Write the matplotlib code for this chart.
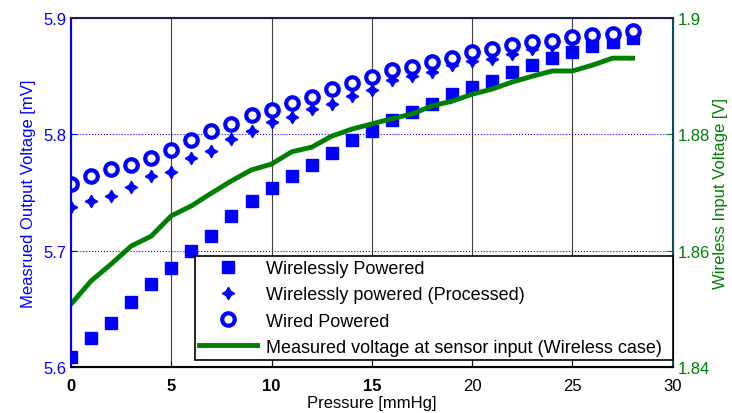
import matplotlib
matplotlib.use("Agg")
import matplotlib.pyplot as plt
import numpy as np

plt.rcParams['font.family'] = ['Liberation Sans', 'DejaVu Sans']

pressure = list(range(29))

# measured output voltage [mV]
wireless = [5.609, 5.625, 5.638, 5.656, 5.671, 5.685, 5.700, 5.713, 5.730, 5.743,
            5.754, 5.764, 5.774, 5.784, 5.795, 5.803, 5.812, 5.819, 5.826, 5.835,
            5.841, 5.846, 5.854, 5.860, 5.866, 5.871, 5.876, 5.879, 5.883]
processed = [5.738, 5.743, 5.747, 5.755, 5.764, 5.768, 5.780, 5.786, 5.796, 5.803,
             5.811, 5.815, 5.822, 5.826, 5.833, 5.838, 5.847, 5.850, 5.854, 5.860,
             5.863, 5.865, 5.869, 5.873, 5.876, 5.879, 5.883, 5.884, 5.885]
wired = [5.757, 5.764, 5.770, 5.774, 5.780, 5.787, 5.795, 5.803, 5.809, 5.817,
         5.821, 5.827, 5.832, 5.839, 5.844, 5.849, 5.855, 5.858, 5.862, 5.866,
         5.871, 5.873, 5.877, 5.879, 5.880, 5.884, 5.885, 5.886, 5.889]

# wireless input voltage [V]
vin = [1.8508, 1.8548, 1.8577, 1.8608, 1.8625, 1.8660, 1.8677, 1.8699, 1.8720, 1.8739,
       1.8749, 1.8770, 1.8778, 1.8797, 1.8809, 1.8818, 1.8827, 1.8835, 1.8849, 1.8857,
       1.8869, 1.8878, 1.8890, 1.8900, 1.8909, 1.8909, 1.8919, 1.8931, 1.8931]

blue = '#0000ff'
green = '#007f00'

fig = plt.figure(figsize=(7.32, 4.14), dpi=100)
ax = fig.add_axes([0.097, 0.111, 0.822, 0.843])
ax2 = ax.twinx()

h1, = ax.plot(pressure, wireless, ls='none', marker='s', ms=8, color=blue,
              label='Wirelessly Powered')
h2, = ax.plot(pressure, processed, ls='none', marker=(4, 1, 0), ms=9, color=blue,
              label='Wirelessly powered (Processed)')
h3, = ax.plot(pressure, wired, ls='none', marker='o', ms=9, mfc='white', mec=blue,
              mew=3, color=blue, label='Wired Powered')
h4, = ax2.plot(pressure, vin, color=green, lw=3.5,
               label='Measured voltage at sensor input (Wireless case)')

ax.set_xlim(0, 30)
ax.set_ylim(5.6, 5.9)
ax2.set_ylim(1.84, 1.9)
ax.set_xticks([0, 5, 10, 15, 20, 25, 30])
ax.set_yticks([5.6, 5.7, 5.8, 5.9])
ax2.set_yticks([1.84, 1.86, 1.88, 1.9])
ax.set_yticklabels(['5.6', '5.7', '5.8', '5.9'])
ax2.set_yticklabels(['1.84', '1.86', '1.88', '1.9'])

# grid: vertical solid dark, horizontal dotted blue
for xv in [5, 10, 15, 20, 25]:
    ax.axvline(xv, color='#404040', lw=0.8, zorder=0)
for yv in [5.7, 5.8]:
    ax.axhline(yv, color=blue, lw=0.8, ls=':', zorder=0)

ax.tick_params(axis='x', direction='in', labelsize=12, colors='black', length=4, pad=8)
ax.tick_params(axis='y', direction='in', labelsize=12, colors=blue, length=4)
ax2.tick_params(axis='y', direction='in', labelsize=12, colors=green, length=4)
for t in ax.get_xticklabels()[:4]:
    t.set_fontweight('bold')

ax.spines['left'].set_color(blue)
ax2.spines['left'].set_color(blue)
ax2.spines['right'].set_color('#0f4c5c')
ax2.spines['top'].set_color('#202040')
ax.spines['bottom'].set_color('black')
for s in ax2.spines.values():
    s.set_linewidth(1.5)

ax.set_xlabel('Pressure [mmHg]', fontsize=12, labelpad=1)
ax.set_ylabel('Measrued Output Voltage [mV]', fontsize=12, color=blue, labelpad=5)
ax2.set_ylabel('Wireless Input Voltage [V]', fontsize=12, color=green, labelpad=2)

leg = ax2.legend(handles=[h1, h2, h3, h4], loc='lower left',
                 bbox_to_anchor=(0.206, 0.02, 0.794, 0.312), mode='expand',
                 fontsize=13, fancybox=False, framealpha=1, edgecolor='black',
                 borderpad=0.25, handlelength=3.2, handletextpad=0.5,
                 labelspacing=0.5, borderaxespad=0)
leg.get_frame().set_linewidth(1.2)

fig.savefig('out.png', dpi=100)
